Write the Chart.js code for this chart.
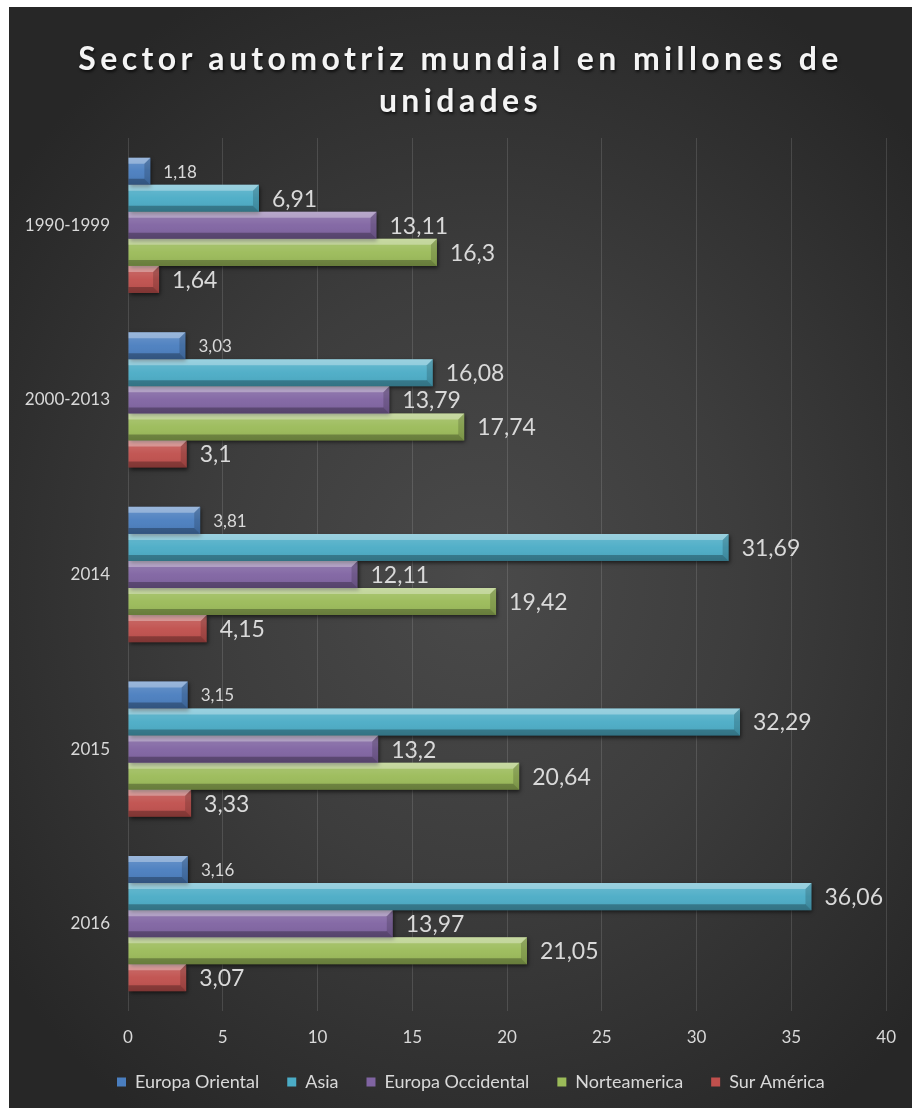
<!DOCTYPE html>
<html lang="es">
<head>
<meta charset="utf-8">
<title>Sector automotriz mundial</title>
<script src="https://cdn.jsdelivr.net/npm/chart.js@4/dist/chart.umd.min.js"></script>
<style>
  html, body { margin: 0; padding: 0; background: #fff; }
  #panel {
    position: absolute; left: 9px; top: 7px; width: 903px; height: 1101px;
    background: radial-gradient(ellipse 65% 60% at 52% 52%, #4a4a4a 0%, #3d3d3d 45%, #272727 100%);
    overflow: hidden;
  }
  #title {
    position: absolute; left: 0; top: 30px; width: 100%;
    text-align: center; color: #f4f4f4;
    font: bold 32px Lato, sans-serif; line-height: 42px; letter-spacing: 4.4px;
    text-shadow: 1px 2px 3px rgba(0,0,0,0.7);
  }
  #chart { position: absolute; left: 0; top: 0; }
</style>
</head>
<body>
<div id="panel">
  <canvas id="chart" width="903" height="1101"></canvas>
  <div id="title">Sector automotriz mundial en millones de<br>unidades</div>
</div>
<script>
// periods shown on the category axis
const CATEGORIES = ['1990-1999', '2000-2013', '2014', '2015', '2016'];

// one array per region, millions of units
const EUROPA_ORIENTAL   = [1.18, 3.03, 3.81, 3.15, 3.16];
const ASIA              = [6.91, 16.08, 31.69, 32.29, 36.06];
const EUROPA_OCCIDENTAL = [13.11, 13.79, 12.11, 13.2, 13.97];
const NORTEAMERICA      = [16.3, 17.74, 19.42, 20.64, 21.05];
const SUR_AMERICA       = [1.64, 3.1, 4.15, 3.33, 3.07];

const X_MIN = 0, X_MAX = 40, X_STEP = 5;

const COLORS = {
  oriental: '#4a7ebf',
  asia: '#4bacc6',
  occidental: '#8064a2',
  norte: '#9bbb59',
  sur: '#c0504d',
  text: '#d9d9d9',
  grid: 'rgba(255,255,255,0.13)'
};

function $(id) { return document.getElementById(id); }

// drop shadow under each bar
const shadowPlugin = {
  id: 'barShadow',
  beforeDatasetDraw(chart) {
    const ctx = chart.ctx;
    ctx.save();
    ctx.shadowColor = 'rgba(0,0,0,0.6)';
    ctx.shadowBlur = 4;
    ctx.shadowOffsetX = 1;
    ctx.shadowOffsetY = 2;
  },
  afterDatasetDraw(chart) { chart.ctx.restore(); }
};

// bevelled faces drawn on top of the flat bars
const bevelPlugin = {
  id: 'bevel',
  afterDatasetsDraw(chart) {
    const ctx = chart.ctx;
    chart.data.datasets.forEach((ds, i) => {
      chart.getDatasetMeta(i).data.forEach(bar => {
        const p = bar.getProps(['x', 'y', 'base', 'height'], true);
        const top = p.y - p.height / 2, bottom = p.y + p.height / 2;
        const left = p.base, right = p.x;
        const w = Math.min(6, (right - left) / 2);
        ctx.save();
        // soft vertical sheen on the front face
        const g = ctx.createLinearGradient(0, top, 0, bottom);
        g.addColorStop(0, 'rgba(255,255,255,0.18)');
        g.addColorStop(0.5, 'rgba(255,255,255,0.04)');
        g.addColorStop(1, 'rgba(0,0,0,0.08)');
        ctx.fillStyle = g;
        ctx.fillRect(left, top, right - left, bottom - top);
        // top face
        ctx.fillStyle = 'rgba(255,255,255,0.32)';
        ctx.beginPath();
        ctx.moveTo(left, top); ctx.lineTo(right, top);
        ctx.lineTo(right - w, top + w); ctx.lineTo(left, top + w);
        ctx.closePath(); ctx.fill();
        // right face
        ctx.fillStyle = 'rgba(0,0,0,0.16)';
        ctx.beginPath();
        ctx.moveTo(right, top); ctx.lineTo(right, bottom);
        ctx.lineTo(right - w, bottom - w); ctx.lineTo(right - w, top + w);
        ctx.closePath(); ctx.fill();
        // bottom face
        ctx.fillStyle = 'rgba(0,0,0,0.28)';
        ctx.beginPath();
        ctx.moveTo(left, bottom); ctx.lineTo(right, bottom);
        ctx.lineTo(right - w, bottom - w); ctx.lineTo(left, bottom - w);
        ctx.closePath(); ctx.fill();
        ctx.restore();
      });
    });
  }
};

// value labels just past the end of each bar, comma decimals
const valueLabels = {
  id: 'valueLabels',
  afterDatasetsDraw(chart) {
    const ctx = chart.ctx;
    ctx.save();
    ctx.fillStyle = COLORS.text;
    ctx.textBaseline = 'middle';
    ctx.textAlign = 'left';
    chart.data.datasets.forEach((ds, i) => {
      ctx.font = (i === 0 ? '17px' : '23px') + ' Lato, sans-serif';
      chart.getDatasetMeta(i).data.forEach((bar, j) => {
        const txt = String(ds.data[j]).replace('.', ',');
        ctx.fillText(txt, bar.x + 13, bar.y + 1);
      });
    });
    ctx.restore();
  }
};

// legend starts under the first ticks instead of at the canvas edge
const legendShift = {
  id: 'legendShift',
  afterLayout(chart) {
    const lg = chart.legend;
    lg.left += 80;
    lg.right += 80;
  }
};

function makeDataset(label, data, color) {
  return {
    label, data,
    backgroundColor: color,
    borderWidth: 0,
    barPercentage: 1,
    categoryPercentage: 0.775
  };
}

const chart = new Chart($('chart'), {
  type: 'bar',
  data: {
    labels: CATEGORIES,
    datasets: [
      makeDataset('Europa Oriental', EUROPA_ORIENTAL, COLORS.oriental),
      makeDataset('Asia', ASIA, COLORS.asia),
      makeDataset('Europa Occidental', EUROPA_OCCIDENTAL, COLORS.occidental),
      makeDataset('Norteamerica', NORTEAMERICA, COLORS.norte),
      makeDataset('Sur América', SUR_AMERICA, COLORS.sur)
    ]
  },
  options: {
    indexAxis: 'y',
    responsive: false,
    animation: false,
    layout: { padding: { top: 131, right: 24, bottom: 7, left: 0 } },
    plugins: {
      title: { display: false },
      tooltip: { enabled: false },
      legend: {
        position: 'bottom',
        align: 'start',
        maxHeight: 61,
        labels: {
          color: COLORS.text,
          font: { family: 'Lato, sans-serif', size: 18 },
          boxWidth: 9, boxHeight: 9,
          padding: 28
        }
      }
    },
    scales: {
      x: {
        min: X_MIN, max: X_MAX,
        ticks: { stepSize: X_STEP, color: COLORS.text, padding: 16, font: { family: 'Lato, sans-serif', size: 17 } },
        grid: { color: COLORS.grid, drawTicks: false },
        border: { display: false },
        afterFit(scale) { scale.height = 34; }
      },
      y: {
        ticks: { color: COLORS.text, padding: 10, font: { family: 'Lato, sans-serif', size: 17 } },
        grid: { display: false },
        border: { display: false },
        afterFit(scale) { scale.width = 119; }
      }
    }
  },
  plugins: [shadowPlugin, bevelPlugin, valueLabels, legendShift]
});
</script>
</body>
</html>
